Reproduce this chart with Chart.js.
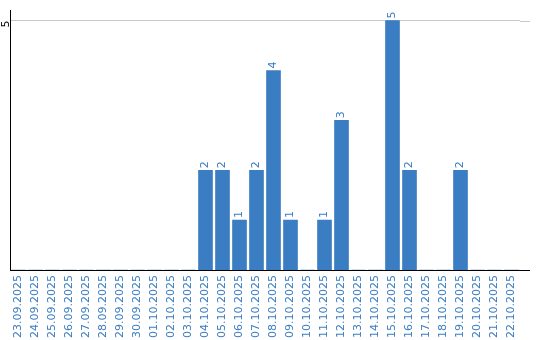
<!DOCTYPE html>
<html lang="en">
<head>
    <meta charset="UTF-8">
    <title>Daily count</title>
    <script src="https://cdn.jsdelivr.net/npm/chart.js"></script>
    <style>
        body { margin: 0; background: #fff; }
        #chart { display: block; }
    </style>
</head>
<body>
    <canvas id="chart" width="540" height="340"></canvas>

    <script>
        // Days shown on the x axis
        var days = [
            '23.09.2025', '24.09.2025', '25.09.2025', '26.09.2025', '27.09.2025',
            '28.09.2025', '29.09.2025', '30.09.2025', '01.10.2025', '02.10.2025',
            '03.10.2025', '04.10.2025', '05.10.2025', '06.10.2025', '07.10.2025',
            '08.10.2025', '09.10.2025', '10.10.2025', '11.10.2025', '12.10.2025',
            '13.10.2025', '14.10.2025', '15.10.2025', '16.10.2025', '17.10.2025',
            '18.10.2025', '19.10.2025', '20.10.2025', '21.10.2025', '22.10.2025'
        ];
        // Count per day
        var counts = [
            0, 0, 0, 0, 0,
            0, 0, 0, 0, 0,
            0, 2, 2, 1, 2,
            4, 1, 0, 1, 3,
            0, 0, 5, 2, 0,
            0, 2, 0, 0, 0
        ];
        // Only tick shown on the value axis
        var yTicks = [5];

        var blue = '#3a7dc3';
        var font = { family: 'DejaVu Sans', size: 11 };

        // Value written above each bar, rotated like the axis labels
        var barValues = {
            id: 'barValues',
            afterDatasetsDraw: function (chart) {
                var ctx = chart.ctx;
                var meta = chart.getDatasetMeta(0);
                ctx.save();
                ctx.fillStyle = blue;
                ctx.font = font.size + 'px ' + font.family;
                ctx.textAlign = 'left';
                ctx.textBaseline = 'middle';
                meta.data.forEach(function (bar, i) {
                    var v = counts[i];
                    if (!v) return;
                    ctx.save();
                    ctx.translate(bar.x, bar.y - 2);
                    ctx.rotate(-Math.PI / 2);
                    ctx.fillText(String(v), 0, 0);
                    ctx.restore();
                });
                ctx.restore();
            }
        };

        // The axis line and grid line run a bit past the last bar
        var lineTail = {
            id: 'lineTail',
            afterDraw: function (chart) {
                var ctx = chart.ctx;
                var area = chart.chartArea;
                var yGrid = Math.round(chart.scales.y.getPixelForValue(5)) + 0.5;
                ctx.save();
                ctx.lineWidth = 1;
                ctx.strokeStyle = '#c8c8c8';
                ctx.beginPath();
                ctx.moveTo(area.right, yGrid);
                ctx.lineTo(area.right + 10, yGrid);
                ctx.stroke();
                ctx.strokeStyle = '#000';
                ctx.beginPath();
                ctx.moveTo(area.right, Math.round(area.bottom) + 0.5);
                ctx.lineTo(area.right + 10, Math.round(area.bottom) + 0.5);
                ctx.stroke();
                ctx.restore();
            }
        };

        new Chart(document.getElementById('chart'), {
            type: 'bar',
            data: {
                labels: days,
                datasets: [{
                    data: counts,
                    backgroundColor: blue,
                    barThickness: 14
                }]
            },
            plugins: [barValues, lineTail],
            options: {
                responsive: false,
                animation: false,
                layout: { padding: { top: 10, right: 20, left: 0, bottom: 0 } },
                plugins: {
                    legend: { display: false },
                    tooltip: { enabled: false }
                },
                scales: {
                    x: {
                        grid: { display: false, drawTicks: false },
                        border: { display: true, color: '#000', width: 1 },
                        ticks: {
                            color: blue,
                            font: font,
                            minRotation: 90,
                            maxRotation: 90,
                            padding: 5,
                            autoSkip: false
                        },
                        afterFit: function (s) { s.height = 70; }
                    },
                    y: {
                        min: 0,
                        max: 5.2,
                        grid: { color: '#c8c8c8', drawTicks: false },
                        border: { display: true, color: '#000', width: 1 },
                        ticks: {
                            color: '#000',
                            font: font,
                            minRotation: 90,
                            maxRotation: 90,
                            padding: 4
                        },
                        afterBuildTicks: function (s) {
                            s.ticks = yTicks.map(function (v) { return { value: v }; });
                        },
                        afterFit: function (s) { s.width = 10; }
                    }
                }
            }
        });
    </script>
</body>
</html>
